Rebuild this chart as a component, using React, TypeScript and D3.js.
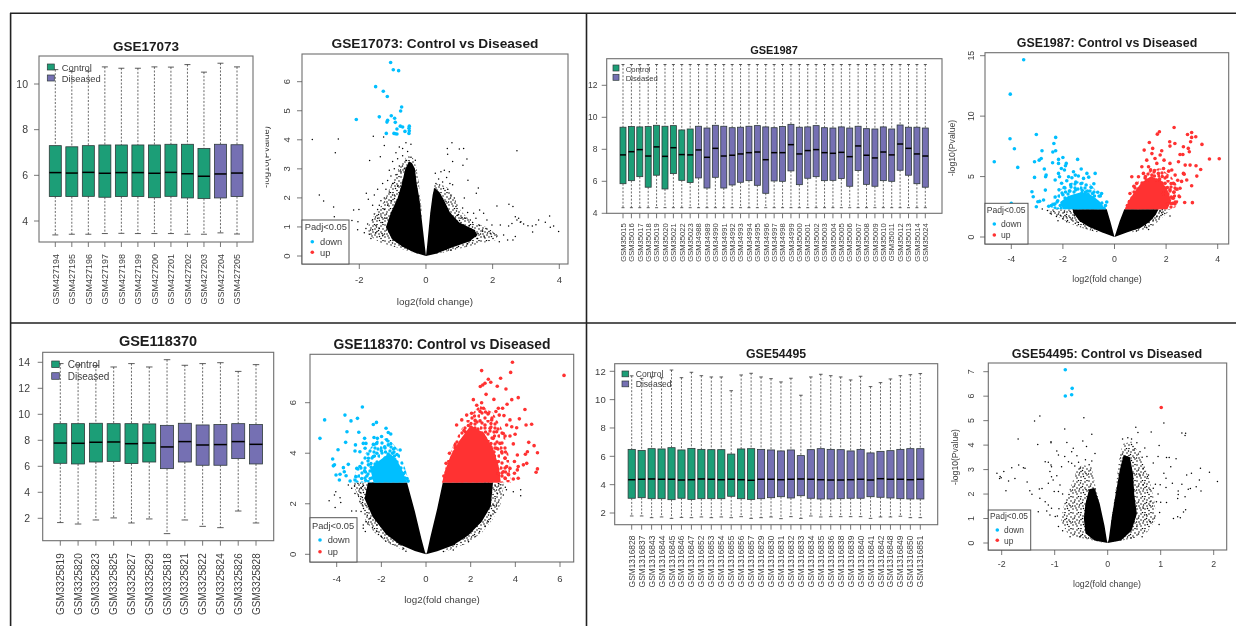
import React from "react";
import * as d3 from "d3";

type Pt = [number, number];

const GREEN = "#1b9e77";
const PURPLE = "#7570b3";
const BLUE = "#00bfff";
const RED = "#ff3030";
const INK = "#3d3d3d";
const FONT = "'Liberation Sans', Arial, sans-serif";

// ---- boxplot values ----
const samples17073 = ["GSM427194","GSM427195","GSM427196","GSM427197","GSM427198","GSM427199","GSM427200","GSM427201","GSM427202","GSM427203","GSM427204","GSM427205"];
const q3_17073 = [7.30,7.25,7.30,7.33,7.33,7.33,7.33,7.36,7.36,7.18,7.36,7.34];
const q1_17073 = [5.07,5.07,5.08,5.04,5.07,5.07,5.02,5.08,5.01,4.98,5.01,5.07];
const med_17073 = [6.12,6.10,6.13,6.09,6.12,6.12,6.09,6.13,6.07,5.96,6.06,6.10];
const hi_17073 = [10.63,10.55,10.56,10.75,10.69,10.69,10.75,10.74,10.85,10.52,10.91,10.75];
const lo_17073 = [3.39,3.42,3.42,3.45,3.46,3.45,3.45,3.45,3.42,3.42,3.48,3.43];

const samples1987 = ["GSM35015","GSM35016","GSM35017","GSM35018","GSM35019","GSM35020","GSM35021","GSM35022","GSM35023","GSM34988","GSM34989","GSM34990","GSM34991","GSM34992","GSM34993","GSM34994","GSM34995","GSM34996","GSM34997","GSM34998","GSM34999","GSM35000","GSM35001","GSM35002","GSM35003","GSM35004","GSM35005","GSM35006","GSM35007","GSM35008","GSM35009","GSM35010","GSM35011","GSM35012","GSM35013","GSM35014","GSM35024"];
const q3_1987 = [9.38,9.42,9.40,9.42,9.50,9.44,9.48,9.21,9.27,9.44,9.33,9.50,9.44,9.35,9.38,9.44,9.48,9.40,9.35,9.42,9.56,9.38,9.40,9.48,9.35,9.33,9.40,9.33,9.44,9.29,9.27,9.40,9.27,9.52,9.38,9.38,9.33];
const q1_1987 = [5.85,6.04,6.29,5.63,6.38,5.52,6.48,6.06,5.92,6.21,5.58,6.25,5.58,5.77,5.94,6.04,5.75,5.25,6.02,6.00,6.65,5.79,6.19,6.29,6.04,6.06,6.17,5.69,6.67,5.81,5.69,6.04,6.00,6.69,6.38,5.85,5.63];
const med_1987 = [7.65,7.85,7.98,7.58,8.15,7.56,8.10,7.67,7.65,7.96,7.50,8.06,7.58,7.63,7.71,7.79,7.83,7.35,7.79,7.79,8.29,7.71,7.92,7.98,7.79,7.75,7.81,7.54,8.21,7.63,7.46,7.83,7.65,8.33,8.06,7.71,7.58];
const hi_1987 = [13.3,13.3,13.3,13.3,13.3,13.3,13.3,13.3,13.3,13.3,13.3,13.3,13.3,13.3,13.3,13.3,13.3,13.3,13.3,13.3,13.3,13.3,13.3,13.3,13.3,13.3,13.3,13.3,13.3,13.3,13.3,13.3,13.3,13.3,13.3,13.3,13.3];
const lo_1987 = [4.35,4.35,4.35,4.35,4.35,4.35,4.35,4.35,4.35,4.35,4.35,4.35,4.35,4.35,4.35,4.35,4.35,4.35,4.35,4.35,4.35,4.35,4.35,4.35,4.35,4.35,4.35,4.35,4.35,4.35,4.35,4.35,4.35,4.35,4.35,4.35,4.35];

const samples118370 = ["GSM3325819","GSM3325820","GSM3325823","GSM3325825","GSM3325827","GSM3325829","GSM3325818","GSM3325821","GSM3325822","GSM3325824","GSM3325826","GSM3325828"];
const q3_118370 = [9.28,9.28,9.31,9.28,9.28,9.26,9.15,9.31,9.18,9.21,9.28,9.21];
const q1_118370 = [6.23,6.18,6.33,6.38,6.21,6.33,5.82,6.33,6.08,6.08,6.59,6.18];
const med_118370 = [7.79,7.77,7.85,7.87,7.74,7.79,7.49,7.90,7.64,7.67,7.90,7.69];
const hi_118370 = [13.9,13.8,13.75,13.64,13.90,13.64,14.2,13.77,13.9,13.97,13.3,13.82];
const lo_118370 = [1.67,1.56,1.87,2.03,1.64,1.95,0.82,1.87,1.38,1.28,2.56,1.64];

const samples54495 = ["GSM1316828","GSM1316837","GSM1316843","GSM1316844","GSM1316845","GSM1316846","GSM1316847","GSM1316852","GSM1316853","GSM1316854","GSM1316855","GSM1316856","GSM1316857","GSM1316829","GSM1316830","GSM1316831","GSM1316832","GSM1316833","GSM1316834","GSM1316835","GSM1316836","GSM1316838","GSM1316839","GSM1316840","GSM1316841","GSM1316842","GSM1316848","GSM1316849","GSM1316850","GSM1316851"];
const q3_54495 = [6.49,6.42,6.54,6.52,6.61,6.45,6.56,6.49,6.47,6.47,6.16,6.52,6.54,6.49,6.45,6.38,6.45,6.05,6.47,6.54,6.49,6.47,6.38,6.49,6.24,6.35,6.40,6.49,6.54,6.54];
const q1_54495 = [3.04,3.08,3.01,3.01,2.94,3.04,2.96,3.01,3.01,3.01,3.18,3.01,2.96,3.01,3.08,3.15,3.06,3.22,3.04,2.99,2.99,3.01,3.04,3.04,3.15,3.11,3.06,3.01,2.99,2.99];
const med_54495 = [4.35,4.38,4.40,4.38,4.38,4.33,4.35,4.40,4.38,4.35,4.38,4.35,4.31,4.38,4.38,4.35,4.38,4.40,4.38,4.35,4.33,4.33,4.35,4.38,4.33,4.42,4.38,4.38,4.35,4.38];
const hi_54495 = [11.68,11.5,11.6,11.55,12.09,11.55,11.93,11.69,11.6,11.6,10.63,11.74,11.86,11.6,11.48,11.25,11.51,10.31,11.6,11.79,11.69,11.6,11.39,11.65,10.92,11.2,11.46,11.69,11.76,11.84];
const lo_54495 = [1.79,1.79,1.67,1.72,1.62,1.69,1.67,1.72,1.67,1.72,1.67,1.74,1.62,1.67,1.72,1.6,1.74,1.62,1.79,1.72,1.74,1.74,1.74,1.74,1.62,1.72,1.72,1.77,1.67,1.67];

// ---- volcano points (x = log2 fold change, y = -log10 p) ----
// The middle of each cloud can't be read point by point. "mass" is an outline
// of the solid part, "halo" an outline of the speckled part around it (drawn
// with a stipple fill); the loose points that can be made out are listed.
const haloBlack17073: Pt[][] = [
  [[-0.2,0.05],[-0.9,0.3],[-1.35,0.45],[-1.7,0.7],[-1.75,1.0],[-1.55,1.4],[-1.3,1.8],[-1.1,2.3],[-0.9,2.8],[-0.75,3.2],[-0.55,3.45],[-0.4,3.4],[-0.3,3.1],[-0.22,2.6],[-0.12,1.5]],
  [[0.15,0.03],[1.0,0.25],[1.6,0.42],[2.1,0.55],[2.15,0.72],[1.8,1.0],[1.35,1.2],[1.05,1.55],[0.85,2.0],[0.65,2.35],[0.4,2.5],[0.25,2.45],[0.2,2.0],[0.12,1.3]],
];
const massBlack17073: Pt[][] = [
  [[0,0],[-0.35,0.12],[-0.7,0.32],[-1.02,0.58],[-1.2,1],[-1.05,1.5],[-0.85,2],[-0.72,2.5],[-0.62,3],[-0.5,3.25],[-0.42,3.2],[-0.33,3],[-0.28,2.5],[-0.2,2],[-0.1,1],[-0.03,0.3]],
  [[0,0],[0.3,0.08],[0.8,0.3],[1.3,0.5],[1.55,0.72],[1.45,0.9],[1.0,1.15],[0.72,1.5],[0.55,1.9],[0.4,2.2],[0.25,2.35],[0.2,2.1],[0.13,1.5],[0.08,0.9],[0.03,0.3]],
];
const black17073: Pt[] = [[-3.41,4.01],[-2.63,4.03],[-2.72,3.55],[-1.69,3.29],[-1.58,4.12],[-3.2,2.1],[-3.07,1.89],[-2.77,1.69],[-2.75,1.35],[-2.17,1.58],[-2.01,1.6],[-2.22,1.22],[-2.04,1.18],[-2.05,0.9],[-1.79,2.16],[-1.73,1.95],[2.73,3.62],[0.78,3.9],[0.64,3.7],[1.0,3.68],[1.13,3.7],[0.65,3.5],[1.23,3.34],[0.8,3.25],[1.11,3.12],[1.26,2.61],[1.57,2.34],[1.51,2.16],[2.13,1.72],[2.49,1.78],[2.61,1.7],[2.68,1.35],[3.71,1.38],[3.38,1.24],[3.58,1.16],[3.83,1.03],[3.73,0.99],[3.98,0.84],[3.2,0.83],[3.19,1.03],[3.3,1.08],[3.06,1.04],[2.93,1.1],[2.83,1.16],[2.73,1.24],[2.78,1.3],[2.85,1.18],[2.58,1.12],[2.48,1.03],[2.68,0.67],[2.61,0.55],[2.45,0.55],[2.2,0.49],[2.33,0.72],[2.23,1.07],[1.98,1.07],[1.83,1.24],[1.73,1.47],[1.61,1.58],[1.43,1.47],[1.33,1.24],[1.18,1.3],[1.93,0.78],[2.13,0.69],
[-1.85,0.8],[-1.8,0.95],[-1.75,1.1],[-1.7,0.75],[-1.65,0.6],[-1.6,0.9],[-1.6,1.25],[-1.55,1.45],[-1.5,1.05],[-1.5,0.8],[-1.45,1.6],[-1.45,1.3],[-1.4,1.75],[-1.4,0.95],[-1.35,1.9],[-1.35,1.45],[-1.3,0.7],[-1.3,1.15],[-1.25,2.0],[-1.25,1.6],[-1.2,2.3],[-1.2,1.3],[-1.15,2.6],[-1.15,1.75],[-1.1,2.2],[-1.1,0.85],[-1.05,2.75],[-1.05,1.9],[-1.0,2.5],[-1.0,1.5],[-0.95,3.0],[-0.95,2.1],[-0.9,2.8],[-0.9,3.55],[-0.85,3.35],[-0.85,2.4],[-0.8,3.1],[-0.8,3.75],[-0.75,2.9],[-0.7,3.45],[-0.7,3.7],[-0.65,3.0],[-0.6,3.3],[-0.6,3.9],[-0.55,3.6],[-0.5,3.15],[-0.45,3.4],[-0.45,3.85],[-0.4,3.0],[-0.35,2.85],[-0.32,3.3],[-1.37,3.42],[-1.25,3.8],[-1.27,4.1],[-1.0,3.25],[-1.1,2.95],[-1.3,2.5],[-1.45,2.3],[-1.55,2.1],[-1.6,1.75],
[0.3,2.5],[0.28,2.85],[0.38,2.65],[0.45,2.9],[0.5,2.55],[0.55,2.95],[0.62,2.7],[0.65,2.3],[0.7,2.9],[0.72,2.5],[0.75,2.1],[0.8,2.45],[0.85,2.0],[0.9,1.7],[0.95,1.4],[1.05,1.3],[1.1,1.65],[1.15,2.0],[1.25,1.5],[1.3,1.05],[1.4,1.15],[1.5,1.3],[1.6,1.05],[1.7,0.85],[1.8,0.95],[1.55,0.6],[1.75,0.65],[1.25,0.42],[0.75,0.2]];
const down17073: Pt[] = [[-1.06,6.66],[-0.98,6.41],[-0.82,6.38],[-1.51,5.83],[-1.28,5.67],[-1.16,5.49],[-0.73,5.13],[-0.76,4.99],[-2.09,4.70],[-1.40,4.79],[-1.04,4.83],[-0.94,4.74],[-1.15,4.67],[-1.17,4.61],[-0.92,4.60],[-0.77,4.47],[-0.70,4.44],[-0.87,4.37],[-0.50,4.47],[-0.51,4.40],[-0.63,4.29],[-0.50,4.31],[-0.51,4.22],[-0.96,4.22],[-0.87,4.20],[-1.19,4.22],[-0.92,4.21]];

const haloBlack1987: Pt[][] = [
  [[-0.6,0.35],[-1.1,0.65],[-1.55,0.95],[-2.0,1.45],[-2.4,1.9],[-2.6,2.3],[-1.5,2.3],[-1.2,1.4]],
  [[0.6,0.35],[1.1,0.6],[1.45,0.8],[1.75,1.4],[2.0,1.9],[2.2,2.3],[1.5,2.3],[1.2,1.2]],
];
const massBlack1987: Pt[][] = [
  [[0,0],[-0.5,0.4],[-1.0,0.85],[-1.35,1.3],[-1.6,2.0],[-1.62,2.3],[-0.3,2.3],[-0.15,1.2],[-0.05,0.4]],
  [[0,0],[0.5,0.4],[1,0.75],[1.35,1.25],[1.6,1.85],[1.7,2.3],[0.38,2.3],[0.2,1.3],[0.05,0.3]],
];
const black1987: Pt[] = [[-2.8,2.31],[-2.6,2.2],[-2.49,1.96],[-2.35,2.1],[-2.19,1.35],[-1.85,1.27],[-1.87,1.68],[-1.65,1.4],[-1.52,1.13],[-2.1,1.8],[-1.72,2.1],[-2.0,1.5],[-1.95,2.05],[-2.45,1.9],[-2.25,1.7],[1.9,2.37],[2.15,1.74],[1.83,2.0],[1.32,0.63],[1.23,0.8],[1.5,1.4],[1.64,1.68],[1.75,2.15],[1.95,1.95],[1.85,2.25],[-1.2,1.05],[-1.4,1.2],[-1.1,0.75],[-0.85,0.55],[-1.55,1.75],[1.2,0.95],[1.45,1.6],[0.85,0.5]];
const haloDown1987: Pt[][] = [[[-0.32,2.3],[-0.45,3],[-0.7,3.8],[-0.9,4.3],[-1.2,4.6],[-1.5,4.6],[-1.8,4.4],[-2.1,3.9],[-2.35,3.2],[-2.5,2.5],[-2.3,2.3]]];
const massDown1987: Pt[][] = [[[-2.0,2.3],[-2.1,2.9],[-1.8,3.4],[-1.3,3.7],[-1.0,3.6],[-0.75,3.25],[-0.55,2.9],[-0.35,2.3]]];
const down1987: Pt[] = [[-3.52,14.66],[-4.04,11.82],[-4.05,8.13],[-3.88,7.3],[-4.66,6.23],[-3.75,5.76],[-3.03,8.48],[-2.28,8.24],[-2.35,7.74],[-2.81,7.13],[-2.28,7.13],[-2.39,7.03],[-3.1,6.23],[-2.84,6.5],[-3.1,4.93],[-2.92,6.36],[-2.4,6.14],[-2.72,5.62],[-2.65,5.12],[-2.67,4.99],[-3.2,3.75],[-3.15,3.33],[-2.68,3.88],[-2.97,2.92],[-2.75,3.06],[-2.9,2.95],[-3.03,2.5],[-4.0,2.78],[-2.17,6.42],[-2.0,6.58],[-1.87,6.09],[-1.9,5.9],[-2.17,6.09],[-2.06,5.67],[-2.17,5.26],[-1.94,5.54],[-2.3,4.71],[-2.13,4.99],[-1.43,6.42],[-1.29,5.62],[-1.59,5.4],[-1.78,4.99],[-1.52,5.12],[-1.07,5.26],[-0.75,5.26],[-2.45,2.6],[-2.55,2.55],[-2.35,2.7],[-2.3,3.3],[-2.15,3.9],[-2.05,4.45],[-1.95,4.1],[-1.85,4.65],[-1.7,4.3],[-1.65,4.9],[-1.5,4.55],[-1.4,5.05],[-1.3,4.4],[-1.2,4.85],[-1.1,4.3],[-1.0,4.95],[-0.9,4.1],[-0.8,4.4],[-0.65,3.7],[-0.55,3.4],[-0.5,3.6],[-0.3,2.9],[-0.35,2.6],[-2.1,2.6],[-2.2,3.0],[-2.0,3.5],[-1.75,3.8],[-1.5,3.9],[-1.25,3.85],[-1.05,3.8],[-0.85,3.6]];
const haloUp1987: Pt[][] = [[[0.4,2.3],[0.52,3],[0.7,4],[0.95,4.7],[1.3,5.4],[1.75,5.7],[2.2,5.0],[2.45,4.2],[2.55,3.4],[2.4,2.5],[2.2,2.3]]];
const massUp1987: Pt[][] = [[[0.42,2.3],[0.55,3],[0.8,3.8],[1.05,4.5],[1.4,5.0],[1.8,4.7],[2.05,3.9],[2.2,3],[2.05,2.3]]];
const up1987: Pt[] = [[2.31,9.06],[1.74,8.71],[1.66,8.51],[1.35,7.82],[2.99,8.65],[2.83,8.48],[3.15,8.29],[2.99,8.24],[2.95,7.88],[3.39,7.66],[2.14,7.88],[2.34,7.74],[2.15,7.52],[1.48,7.33],[1.15,7.19],[1.83,7.13],[2.67,7.47],[2.86,7.33],[2.9,7.05],[3.68,6.45],[4.06,6.47],[2.54,6.83],[2.65,6.83],[2.48,6.23],[2.74,5.95],[2.93,5.95],[3.16,5.9],[3.34,5.59],[3.19,5.04],[2.99,4.24],[2.8,4.71],[2.72,2.86],[3.02,2.84],[2.28,3.2],[2.25,2.78],[2.06,2.73],[2.52,3.33],[1.25,6.36],[1.45,6.9],[1.57,6.5],[1.77,6.78],[1.92,6.36],[2.15,6.09],[1.06,5.81],[1.32,5.81],[1.64,6.09],[1.9,5.67],[2.22,5.54],[0.93,4.99],[1.12,5.26],[1.45,5.12],[1.7,5.26],[2.03,4.99],[2.35,5.12],[2.67,5.26],[0.67,4.99],[0.86,4.44],[1.25,4.71],[1.64,4.71],[1.96,4.44],[2.28,4.44],[2.54,4.03],[2.7,5.2],[2.15,3.9],[1.9,3.6],[2.3,3.7],[2.05,4.1],[2.4,3.95],[1.55,5.5],[1.85,5.0],[2.1,5.45],[1.2,5.0],[0.75,4.2],[0.6,3.6],[2.2,3.3],[0.5,2.6],[2.35,2.9],[1.75,4.8],[2.6,4.6],[2.45,4.7],[1.4,5.55]];

const haloBlack118370: Pt[][] = [
  [[-0.8,0.1],[-1.0,0.15],[-1.7,0.45],[-2.3,0.85],[-2.7,1.3],[-3.0,2.2],[-3.3,2.84],[-2.3,2.84],[-1.6,1.0]],
  [[0.8,0.1],[1.0,0.15],[1.8,0.42],[2.5,0.85],[3.0,1.4],[3.35,2.0],[3.5,2.84],[2.5,2.84],[1.6,1.0]],
];
const massBlack118370: Pt[][] = [
  [[0,0],[-0.5,0.13],[-1.2,0.4],[-1.8,0.8],[-2.4,1.5],[-2.75,2.2],[-2.6,2.84],[-0.85,2.84],[-0.5,1.7],[-0.2,0.6],[-0.05,0.1]],
  [[0,0],[0.5,0.12],[1.2,0.35],[1.9,0.75],[2.5,1.3],[2.9,1.9],[3.0,2.84],[0.75,2.84],[0.5,1.8],[0.2,0.7],[0.05,0.1]],
];
const black118370: Pt[] = [[-4.34,2.12],[-4.04,2.48],[-4.1,2.35],[-3.85,2.24],[-4.07,1.85],[-3.82,2.05],[-3.48,2.74],[-3.33,2.61],[-3.18,2.41],[-3.03,2.35],[-2.96,2.08],[-3.33,1.71],[-3.13,1.71],[-2.91,1.69],[-2.81,1.16],[-2.69,1.29],[-2.63,1.55],[-2.81,1.03],[-2.51,1.42],[-2.72,0.9],[-2.2,1.16],[-3.2,2.7],[-3.05,2.8],[-2.9,2.6],[-2.8,2.72],[-2.95,2.45],[-2.85,2.25],[-2.85,1.95],[-2.6,1.2],[-2.4,1.05],[-2.2,0.9],[-2.0,0.7],[-1.8,0.52],[-1.6,0.45],[-1.39,0.37],[-1.0,0.22],[-0.9,0.12],[3.91,2.48],[4.24,2.55],[4.24,2.32],[3.46,2.35],[3.24,2.8],[3.31,2.6],[3.0,1.95],[2.79,1.29],[2.4,0.9],[2.2,0.7],[1.9,0.5],[1.22,0.17],[0.78,0.11],[3.2,2.4],[3.1,2.2],[3.1,2.7],[3.35,2.75],[3.55,2.65],[3.6,2.55],[3.15,1.95],[3.05,1.7],[2.9,1.55],[2.65,1.1]];
const haloDown118370: Pt[][] = [[[-0.75,2.84],[-1.0,3.6],[-1.3,4.2],[-1.7,4.6],[-2.2,4.5],[-2.7,4.0],[-3.1,3.4],[-3.3,2.84]]];
const massDown118370: Pt[][] = [[[-2.35,2.84],[-2.5,3.4],[-2.1,3.7],[-1.65,4.0],[-1.35,3.8],[-1.1,3.4],[-0.85,2.84]]];
const down118370: Pt[] = [[-4.75,4.59],[-4.54,5.32],[-3.63,5.51],[-2.85,5.83],[-3.07,5.38],[-3.36,5.28],[-2.22,5.22],[-2.36,5.14],[-3.54,4.85],[-3.01,4.83],[-1.79,4.99],[-1.69,4.82],[-1.58,4.76],[-2.75,4.59],[-2.33,4.62],[-2.18,4.59],[-1.99,4.66],[-3.6,4.43],[-3.16,4.33],[-2.81,4.39],[-2.69,4.39],[-2.36,4.35],[-2.21,4.39],[-1.76,4.53],[-1.69,4.33],[-3.94,4.14],[-3.18,4.09],[-2.96,4.06],[-2.73,4.2],[-1.46,4.17],[-1.16,4.13],[-4.18,3.77],[-4.1,3.54],[-4.15,3.5],[-3.48,3.56],[-3.7,3.43],[-4.03,3.14],[-3.85,3.17],[-3.66,3.27],[-3.58,3.11],[-3.88,2.94],[-3.4,2.9],[-3.1,3.4],[-2.96,3.47],[-3.13,3.07],[-2.88,3.0],[-3.18,2.94],[-2.58,3.8],[-2.36,3.87],[-2.58,3.54],[-2.75,3.3],[-2.65,3.1],[-2.7,2.92],[-2.5,3.0],[-2.2,4.0],[-2.0,4.1],[-1.85,4.25],[-1.5,4.0],[-1.3,3.95],[-1.0,3.2],[-0.85,3.0],[-0.8,2.9]];
const haloUp118370: Pt[][] = [[[0.72,2.84],[0.95,3.7],[1.3,4.5],[1.8,5.3],[2.4,5.9],[3.0,5.6],[3.5,4.8],[3.7,3.9],[3.8,2.84]]];
const massUp118370: Pt[][] = [[[0.72,2.84],[0.85,3.3],[1.1,3.9],[1.5,4.5],[2.0,5.1],[2.6,4.8],[3.0,4.2],[3.25,3.5],[3.35,2.84]]];
const up118370: Pt[] = [[3.87,7.6],[3.79,7.2],[2.49,7.27],[6.18,7.08],[3.34,6.97],[2.79,6.93],[2.9,6.81],[2.64,6.77],[2.54,6.7],[2.43,6.64],[3.19,6.65],[3.58,6.54],[2.69,6.33],[3.04,6.13],[4.13,6.2],[3.84,6.12],[2.12,6.12],[2.49,6],[3.63,5.94],[4.43,5.73],[3.43,5.78],[3.24,5.78],[3.13,5.65],[3.28,5.51],[3.49,5.49],[4.18,5.36],[3.76,5.32],[4.48,5.12],[4.73,5.15],[3.61,5.12],[4.06,5.01],[3.84,5.05],[3.99,4.75],[3.76,4.68],[3.54,4.68],[3.46,4.78],[4.6,4.43],[4.84,4.3],[3.91,4.37],[4.99,4.02],[4.54,4.06],[4.45,3.96],[4.09,3.93],[3.96,3.67],[4.51,3.6],[4.36,3.54],[4.99,3.38],[4.93,3.25],[4.13,3.47],[4.09,3.34],[3.76,3.4],[3.96,3.21],[3.91,2.98],[4.13,3.01],[3.61,3.47],[3.46,3.27],[1.6,5.32],[1.37,5.12],[1.82,5.51],[2.04,5.58],[2.27,5.9],[2.42,5.65],[2.57,5.78],[2.79,5.58],[2.94,5.32],[2.42,5.28],[2.64,5.12],[2.87,4.99],[3.16,4.85],[3.01,4.59],[3.31,4.39],[3.16,4.2],[3.39,4.06],[3.54,3.8],[3.24,3.67],[3.4,3.1],[3.55,3.0],[3.25,3.2],[3.7,3.15],[2.2,5.3],[1.9,5.1],[1.7,4.9],[1.3,4.3],[1.05,4.0],[0.9,3.6],[0.8,3.1]];

const haloBlack54495: Pt[][] = [
  [[-0.1,0.02],[-0.5,0.2],[-0.75,0.35],[-0.88,0.9],[-0.82,1.6],[-0.7,2.3],[-0.58,3.0],[-0.48,3.2],[-0.3,3.1],[-0.25,2.5],[-0.14,1.5]],
  [[0.1,0.02],[0.5,0.2],[0.75,0.45],[0.92,1.0],[0.88,1.7],[0.8,2.5],[0.7,3.1],[0.58,3.7],[0.45,4.15],[0.28,4.05],[0.22,3.5],[0.14,2],[0.06,0.8]],
];
const massBlack54495: Pt[][] = [
  [[0,0],[-0.25,0.1],[-0.42,0.4],[-0.45,1.0],[-0.42,1.6],[-0.35,2.2],[-0.25,2.25],[-0.15,1.6],[-0.06,0.7],[-0.015,0.1]],
  [[0,0],[0.25,0.1],[0.45,0.5],[0.55,1.2],[0.5,2.0],[0.48,2.8],[0.42,3.5],[0.3,3.6],[0.23,3],[0.15,2.0],[0.08,1.1],[0.02,0.15]],
];
const black54495: Pt[] = [[-1.28,5.19],[-1.38,4.99],[-0.45,5.12],[-0.81,4.66],[-0.30,4.44],[-1.69,4.25],[-1.32,4.03],[-1.07,4.14],[-1.07,4.10],[1.06,4.90],[0.53,4.73],[0.57,4.52],[0.82,4.54],[1.40,4.50],[1.47,4.48],[1.46,4.39],[0.97,3.98],[0.70,3.88],[-0.77,4.11],[-0.65,3.87],[-0.47,4.17],[-0.96,3.76],[-0.93,3.60],[-0.81,3.53],[-0.68,3.73],[-0.58,3.57],[-0.40,3.94],[-0.24,3.66],[-1.68,3.19],[-1.59,3.08],[-1.56,3.05],[-2.09,2.85],[-1.96,2.92],[-1.81,3.08],[-2.03,2.72],[-2.01,2.67],[-2.04,2.64],[-1.87,2.53],[-1.75,2.64],[-1.52,2.49],[-1.92,2.14],[-1.47,2.14],[-1.43,1.99],[-1.29,2.21],[-1.24,2.23],[-1.18,3.32],[-1.12,3.30],[-1.07,3.19],[-1.06,3.12],[-1.09,2.92],[-1.06,2.71],[-0.96,2.75],[-1.03,2.57],[-1.12,2.44],[-1.01,2.10],[-0.93,2.10],[-0.90,2.37],[-0.74,3.32],[-0.87,3.12],[-0.68,3.26],[-0.52,3.05],[-1.28,1.83],[-1.18,1.69],[-1.12,1.55],[-1.06,1.42],[-1.15,1.31],[-1.31,1.28],[-1.09,1.14],[-0.99,1.08],[-0.93,0.67],[-0.71,0.26],[-0.52,0.26],
[1.11,3.49],[1.16,3.49],[1.29,3.44],[1.19,3.12],[1.06,2.85],[1.10,2.65],[0.99,2.38],[1.10,2.27],[1.22,2.44],[1.58,2.85],[1.49,2.78],[1.75,3.05],[1.92,2.89],[2.07,2.51],[1.73,2.57],[1.67,2.30],[1.52,2.20],[1.56,2.23],[1.76,2.12],[1.40,2.40],[1.33,2.12],[1.33,1.98],[1.32,1.82],[1.46,1.89],[0.95,3.53],[0.86,3.27],[0.74,3.53],[0.61,3.73],[0.67,3.05],[0.77,2.78],[0.74,2.65],[0.61,2.78],[0.67,2.38],[0.86,2.24],[0.92,1.69],[1.11,1.66],[1.00,1.67],[0.80,1.69],[0.67,1.42],[0.73,1.15],[0.80,0.87],[0.97,0.76],[1.24,1.0],[1.32,1.07],[1.37,1.03],[1.43,1.27],[1.47,1.36],[0.55,0.67],[0.65,0.26],[0.44,0.2],
[-0.35,3.2],[-0.3,3.35],[-0.42,3.4],[-0.55,3.3],[-0.62,3.15],[0.5,3.8],[0.45,4.25],[0.38,4.3],[0.28,4.25],[0.55,4.1],[0.65,3.5],[-0.85,2.0],[-0.92,1.4],[-0.95,1.1],[-0.85,0.5],[0.98,1.25],[0.95,2.0],[0.9,2.4]];
const down54495: Pt[] = [[-0.8,7.08],[-0.67,6.32],[-0.68,6.06],[-0.8,6.01]];
const up54495: Pt[] = [[1.01,5.54]];

const ticks17073 = [4, 6, 8, 10];
const ticks1987 = [4, 6, 8, 10, 12];
const ticks118370 = [2, 4, 6, 8, 10, 12, 14];
const ticks54495 = [2, 4, 6, 8, 10, 12];

// stipple tiles for the "halo" outlines, placed by hand so they look uneven
const stippleFine: Pt[] = [[1,1],[5,2],[9,0.5],[13,2],[3,4],[7,5],[11,4],[15,5],[1,7],[5,8],[9,7.5],[13,8],[3,10],[7,11],[11,10],[15,11],[1,13],[5,14],[9,13],[13,14.5],[6.5,0.5],[2.5,6],[10.5,6.5],[14,9.5],[7.5,9],[4,12],[11.5,12.5],[15,0.5],[8.5,3],[0.5,10]];
const stippleCoarse: Pt[] = [[2,3],[8,1],[15,4],[5,8],[11,7],[18,9],[2,13],[8,14],[14,12],[19,16],[5,18],[12,18],[17,2],[10,11],[1,8],[14.5,16],[11,3.5],[5.5,12],[15,8]];

const Title = ({ x, y, size, text }: any) => (
  <text x={x} y={y} fontSize={size} fontWeight="bold" textAnchor="middle" fill="#1a1a1a">{text}</text>
);

function BoxPanel(p: any) {
  const { samples, nControl, q1, q3, med, hi, lo, yTicks, frame, cal, o } = p;
  const y = d3.scaleLinear().domain(cal.v).range(cal.y);
  const x = d3.scalePoint<string>().domain(samples).range(cal.x);
  return (
    <g>
      <Title x={o.titleX} y={o.titleY} size={o.titleSize} text={o.title} />
      {samples.map((s: string, i: number) => {
        const cx = x(s)!;
        const w = o.boxW / 2;
        return (
          <g key={s}>
            <line x1={cx} x2={cx} y1={y(hi[i])} y2={y(q3[i])} stroke="#444" strokeWidth={0.8} strokeDasharray="2 1.6" />
            <line x1={cx} x2={cx} y1={y(q1[i])} y2={y(lo[i])} stroke="#444" strokeWidth={0.8} strokeDasharray="2 1.6" />
            <line x1={cx - w / 2} x2={cx + w / 2} y1={y(hi[i])} y2={y(hi[i])} stroke="#333" strokeWidth={0.8} />
            <line x1={cx - w / 2} x2={cx + w / 2} y1={y(lo[i])} y2={y(lo[i])} stroke="#333" strokeWidth={0.8} />
            <rect x={cx - w} width={w * 2} y={y(q3[i])} height={y(q1[i]) - y(q3[i])} fill={i < nControl ? GREEN : PURPLE} stroke="#2f3a3a" strokeWidth={0.8} />
            <line x1={cx - w} x2={cx + w} y1={y(med[i])} y2={y(med[i])} stroke="#000" strokeWidth={1.5} />
            <line x1={cx} x2={cx} y1={frame.y1} y2={frame.y1 + 5} stroke="#555" strokeWidth={0.8} />
            <text transform={`translate(${cx},${o.labelTop}) rotate(-90)`} dy="0.36em" textAnchor="end" fontSize={o.labelSize} fill={INK}>{s}</text>
          </g>
        );
      })}
      <rect x={frame.x0} y={frame.y0} width={frame.x1 - frame.x0} height={frame.y1 - frame.y0} fill="none" stroke="#6e6e6e" strokeWidth={1.1} />
      {yTicks.map((t: number) => (
        <g key={t}>
          <line x1={frame.x0 - 5} x2={frame.x0} y1={y(t)} y2={y(t)} stroke="#555" strokeWidth={0.8} />
          <text x={o.tickRight} y={y(t)} dy="0.36em" textAnchor="end" fontSize={o.tickSize} fill={INK}>{t}</text>
        </g>
      ))}
      {[["Control", GREEN], ["Diseased", PURPLE]].map(([name, col], i) => (
        <g key={name}>
          <rect x={o.legX} y={o.legY[i]} width={o.legW} height={o.legH} fill={col} stroke="#2f3a3a" strokeWidth={0.7} />
          <text x={o.legTextX} y={o.legY[i] + o.legH + 0.6} fontSize={o.legSize} fill={INK}>{name}</text>
        </g>
      ))}
    </g>
  );
}

function VolcanoPanel(p: any) {
  const { black, massBlack, haloBlack, down, massDown, haloDown, up, massUp, haloUp, xTicks, yTicks, frame, cal, o } = p;
  const x = d3.scaleLinear().domain(cal.u).range(cal.x);
  const y = d3.scaleLinear().domain(cal.v).range(cal.y);
  const outline = d3.line<Pt>().x(d => x(d[0])).y(d => y(d[1])).curve(d3.curveLinearClosed);
  const clipId = "clip-" + o.title.slice(0, 9);
  const area = (list: Pt[][] | undefined, fill: string) =>
    (list || []).map((m, i) => <path key={fill + i} d={outline(m)!} fill={fill} />);
  return (
    <g>
      <Title x={o.titleX} y={o.titleY} size={o.titleSize} text={o.title} />
      {area(haloBlack, "url(#stipple-black)")}
      {area(massBlack, "#000")}
      {black.map((d: Pt, i: number) => <circle key={i} cx={x(d[0])} cy={y(d[1])} r={0.75} fill="#000" />)}
      {area(haloDown, "url(#stipple-blue)")}
      {area(haloUp, "url(#stipple-red)")}
      {area(massDown, BLUE)}
      {area(massUp, RED)}
      {down.map((d: Pt, i: number) => <circle key={i} cx={x(d[0])} cy={y(d[1])} r={1.8} fill={BLUE} />)}
      {up.map((d: Pt, i: number) => <circle key={i} cx={x(d[0])} cy={y(d[1])} r={1.8} fill={RED} />)}
      <rect x={frame.x0} y={frame.y0} width={frame.x1 - frame.x0} height={frame.y1 - frame.y0} fill="none" stroke="#6e6e6e" strokeWidth={1.1} />
      {xTicks.map((t: number) => (
        <g key={t}>
          <line x1={x(t)} x2={x(t)} y1={frame.y1} y2={frame.y1 + 5} stroke="#555" strokeWidth={0.8} />
          <text x={x(t)} y={o.xTickY} textAnchor="middle" fontSize={o.tickSize} fill={INK}>{t}</text>
        </g>
      ))}
      {yTicks.map((t: number) => (
        <g key={t}>
          <line x1={frame.x0 - 5} x2={frame.x0} y1={y(t)} y2={y(t)} stroke="#555" strokeWidth={0.8} />
          <text transform={`translate(${o.yTickX},${y(t)}) rotate(-90)`} textAnchor="middle" fontSize={o.tickSize} fill={INK}>{t}</text>
        </g>
      ))}
      <text x={o.xLabX} y={o.xLabY} textAnchor="middle" fontSize={o.xLabSize} fill={INK}>log2(fold change)</text>
      {o.yLab && (
        <g clipPath={o.yLab.clip ? `url(#${clipId})` : undefined}>
          {o.yLab.clip && <clipPath id={clipId}><rect x={o.yLab.clip} y={0} width={20} height={626} /></clipPath>}
          <text transform={`translate(${o.yLab.x},${o.yLab.y}) rotate(-90)`} textAnchor="middle" fontSize={o.yLab.size} fill={INK}>-log10(Pvalue)</text>
        </g>
      )}
      <rect x={frame.x0} y={o.leg.top} width={o.leg.right - frame.x0} height={frame.y1 - o.leg.top} fill="#fff" stroke="#555" strokeWidth={1} />
      <text x={o.leg.textX0} y={o.leg.titleY} fontSize={o.leg.size} fill={INK}>{"Padj<0.05"}</text>
      <circle cx={o.leg.dotX} cy={o.leg.downY} r={1.8} fill={BLUE} />
      <text x={o.leg.textX} y={o.leg.downY + 3.3} fontSize={o.leg.size} fill={INK}>down</text>
      <circle cx={o.leg.dotX} cy={o.leg.upY} r={1.8} fill={RED} />
      <text x={o.leg.textX} y={o.leg.upY + 3.3} fontSize={o.leg.size} fill={INK}>up</text>
    </g>
  );
}

export default function App() {
  return (
    <svg width={1236} height={626} style={{ position: "absolute", left: 0, top: 0, background: "#fff" }} fontFamily={FONT}>
      <defs>
        <filter id="soft" x="0" y="0" width="100%" height="100%">
          <feGaussianBlur stdDeviation="0.35" />
        </filter>
        <pattern id="stipple-black" width={16} height={16} patternUnits="userSpaceOnUse">
          {stippleFine.map((d, i) => <circle key={i} cx={d[0]} cy={d[1]} r={0.75} fill="#000" />)}
        </pattern>
        <pattern id="stipple-blue" width={20} height={20} patternUnits="userSpaceOnUse">
          {stippleCoarse.map((d, i) => <circle key={i} cx={d[0]} cy={d[1]} r={1.7} fill={BLUE} />)}
        </pattern>
        <pattern id="stipple-red" width={20} height={20} patternUnits="userSpaceOnUse">
          {stippleCoarse.map((d, i) => <circle key={i} cx={d[0]} cy={d[1]} r={1.7} fill={RED} />)}
        </pattern>
      </defs>
      <g filter="url(#soft)">
        <rect width={1236} height={626} fill="#fff" />
        <BoxPanel samples={samples17073} nControl={10} q1={q1_17073} q3={q3_17073} med={med_17073} hi={hi_17073} lo={lo_17073} yTicks={ticks17073}
          frame={{ x0: 39, x1: 253, y0: 56, y1: 242 }} cal={{ v: [4, 10], y: [221, 84], x: [55.3, 237] }}
          o={{ title: "GSE17073", titleX: 146, titleY: 51, titleSize: 13.5, boxW: 12, labelTop: 254, labelSize: 9, tickRight: 28, tickSize: 10.5, legX: 47.3, legY: [64, 75], legW: 7, legH: 6, legTextX: 61.7, legSize: 9.4 }} />
        <VolcanoPanel black={black17073} massBlack={massBlack17073} haloBlack={haloBlack17073} down={down17073} up={[]} xTicks={[-2, 0, 2, 4]} yTicks={[0, 1, 2, 3, 4, 5, 6]}
          frame={{ x0: 302, x1: 568, y0: 54, y1: 264 }} cal={{ u: [-2, 4], x: [359.3, 559.3], v: [0, 6], y: [256, 81.7] }}
          o={{ title: "GSE17073: Control vs Diseased", titleX: 435, titleY: 48, titleSize: 13.7, xTickY: 283, yTickX: 290, tickSize: 9.5, xLabX: 435, xLabY: 305, xLabSize: 9.9,
            yLab: { x: 268.7, y: 157, size: 9.5, clip: 265.5 },
            leg: { top: 220, right: 349, textX0: 304.7, titleY: 230, size: 9.3, dotX: 312.3, downY: 241.7, upY: 252.3, textX: 320 } }} />

        <BoxPanel samples={samples1987} nControl={9} q1={q1_1987} q3={q3_1987} med={med_1987} hi={hi_1987} lo={lo_1987} yTicks={ticks1987}
          frame={{ x0: 606.7, x1: 942, y0: 58.7, y1: 213.3 }} cal={{ v: [4, 12], y: [213.3, 85.3], x: [623, 925.3] }}
          o={{ title: "GSE1987", titleX: 774, titleY: 54, titleSize: 11, boxW: 6, labelTop: 223.3, labelSize: 7.6, tickRight: 597.5, tickSize: 8.5, legX: 613, legY: [65, 74.3], legW: 6, legH: 6, legTextX: 625.7, legSize: 7.7 }} />
        <VolcanoPanel black={black1987} massBlack={massBlack1987} haloBlack={haloBlack1987} down={down1987} massDown={massDown1987} haloDown={haloDown1987} up={up1987} massUp={massUp1987} haloUp={haloUp1987} xTicks={[-4, -2, 0, 2, 4]} yTicks={[0, 5, 10, 15]}
          frame={{ x0: 985, x1: 1228.7, y0: 52.7, y1: 244 }} cal={{ u: [-4, 4], x: [1011.3, 1217.7], v: [0, 15], y: [237, 55.7] }}
          o={{ title: "GSE1987: Control vs Diseased", titleX: 1107, titleY: 47, titleSize: 12.4, xTickY: 262, yTickX: 973.5, tickSize: 8.8, xLabX: 1107, xLabY: 282, xLabSize: 9,
            yLab: { x: 955, y: 148, size: 8.7 },
            leg: { top: 203.3, right: 1028, textX0: 986.7, titleY: 213.3, size: 8.6, dotX: 994.3, downY: 224, upY: 235, textX: 1001 } }} />

        <BoxPanel samples={samples118370} nControl={6} q1={q1_118370} q3={q3_118370} med={med_118370} hi={hi_118370} lo={lo_118370} yTicks={ticks118370}
          frame={{ x0: 42.7, x1: 273.7, y0: 352.3, y1: 540.7 }} cal={{ v: [2, 14], y: [518.3, 362.3], x: [60.3, 256] }}
          o={{ title: "GSE118370", titleX: 158, titleY: 346, titleSize: 14.5, boxW: 13, labelTop: 553.3, labelSize: 10, tickRight: 30, tickSize: 10.5, legX: 51.7, legY: [361, 372.7], legW: 7.6, legH: 6.6, legTextX: 67.7, legSize: 10 }} />
        <VolcanoPanel black={black118370} massBlack={massBlack118370} haloBlack={haloBlack118370} down={down118370} massDown={massDown118370} haloDown={haloDown118370} up={up118370} massUp={massUp118370} haloUp={haloUp118370} xTicks={[-4, -2, 0, 2, 4, 6]} yTicks={[0, 2, 4, 6]}
          frame={{ x0: 310, x1: 573.7, y0: 354.3, y1: 562 }} cal={{ u: [-4, 6], x: [336.7, 560], v: [0, 6], y: [554.3, 402.7] }}
          o={{ title: "GSE118370: Control vs Diseased", titleX: 442, titleY: 349, titleSize: 13.9, xTickY: 581.7, yTickX: 296, tickSize: 9.5, xLabX: 442, xLabY: 603, xLabSize: 9.8,
            leg: { top: 517.7, right: 357, textX0: 312, titleY: 529, size: 9.3, dotX: 320, downY: 540, upY: 551.7, textX: 327.7 } }} />

        <BoxPanel samples={samples54495} nControl={13} q1={q1_54495} q3={q3_54495} med={med_54495} hi={hi_54495} lo={lo_54495} yTicks={ticks54495}
          frame={{ x0: 614.7, x1: 937.7, y0: 363.7, y1: 524.7 }} cal={{ v: [2, 12], y: [513, 371.3], x: [631.7, 920.3] }}
          o={{ title: "GSE54495", titleX: 776, titleY: 358, titleSize: 12.3, boxW: 7.2, labelTop: 535.7, labelSize: 8.4, tickRight: 605.7, tickSize: 9.5, legX: 622, legY: [371, 381], legW: 6.7, legH: 5.8, legTextX: 635.7, legSize: 8.6 }} />
        <VolcanoPanel black={black54495} massBlack={massBlack54495} haloBlack={haloBlack54495} down={down54495} up={up54495} xTicks={[-2, -1, 0, 1, 2]} yTicks={[0, 1, 2, 3, 4, 5, 6, 7]}
          frame={{ x0: 988.3, x1: 1226.7, y0: 363, y1: 550 }} cal={{ u: [-2, 2], x: [1001.7, 1213.7], v: [0, 7], y: [543, 371.7] }}
          o={{ title: "GSE54495: Control vs Diseased", titleX: 1107, titleY: 358, titleSize: 12.6, xTickY: 567, yTickX: 974, tickSize: 8.8, xLabX: 1107, xLabY: 587, xLabSize: 8.8,
            yLab: { x: 958, y: 457, size: 8.6 },
            leg: { top: 510, right: 1030.7, textX0: 990, titleY: 519.3, size: 8.4, dotX: 997.3, downY: 530, upY: 540.3, textX: 1004 } }} />

        {/* black rules between the four panels */}
        <g stroke="#222" strokeWidth={1.6}>
          <line x1={10} x2={1236} y1={13.3} y2={13.3} />
          <line x1={10.6} x2={10.6} y1={13} y2={626} />
          <line x1={586.5} x2={586.5} y1={13} y2={626} />
          <line x1={10} x2={1236} y1={323} y2={323} />
        </g>
      </g>
    </svg>
  );
}
